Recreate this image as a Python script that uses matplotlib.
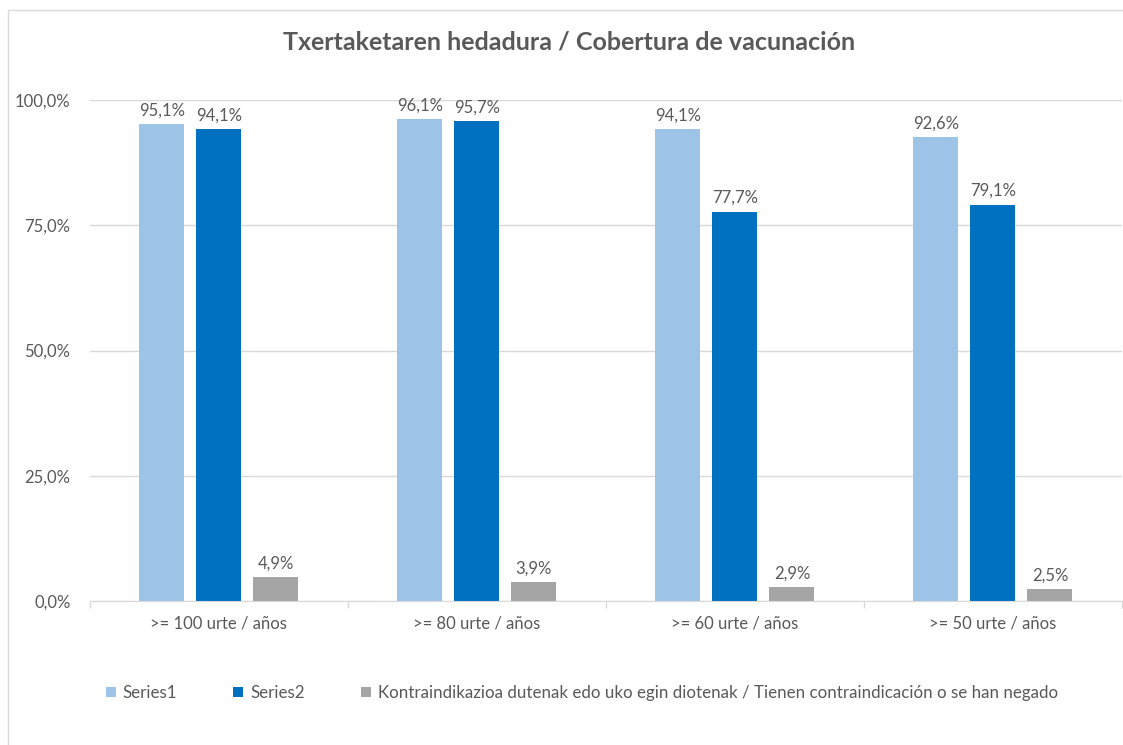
import numpy as np
import matplotlib.pyplot as plt
from matplotlib.patches import Rectangle

# datos
categorias = [">= 100 urte / años", ">= 80 urte / años", ">= 60 urte / años", ">= 50 urte / años"]
series1 = [95.1, 96.1, 94.1, 92.6]
series2 = [94.1, 95.7, 77.7, 79.1]
contra = [4.9, 3.9, 2.9, 2.5]
nombres = ["Series1", "Series2",
           "Kontraindikazioa dutenak edo uko egin diotenak / Tienen contraindicación o se han negado"]
colores = ["#9dc3e6", "#0070c0", "#a5a5a5"]

gris = "#595959"
plt.rcParams["font.family"] = ["Lato", "DejaVu Sans"]

fig = plt.figure(figsize=(11.23, 7.45), dpi=100)
ax = fig.add_axes([0.080, 0.193, 0.919, 0.673])

# marco del grafico
fig.patches.append(Rectangle((8 / 1123, -0.01), 1.2, 1 - 10 / 745 + 0.01, transform=fig.transFigure,
                             fill=False, edgecolor="#d9d9d9", linewidth=1))

x = np.arange(len(categorias))
ancho = 0.175
paso = 0.221
for i, (vals, col, nom) in enumerate(zip([series1, series2, contra], colores, nombres)):
    barras = ax.bar(x + (i - 1) * paso, vals, ancho, color=col, label=nom, zorder=3)
    for b, v in zip(barras, vals):
        ax.text(b.get_x() + b.get_width() / 2, v + 1.1, f"{v:.1f}%".replace(".", ","),
                ha="center", va="bottom", fontsize=12, color=gris)

ax.set_xlim(-0.5, len(categorias) - 0.5)
ax.set_ylim(0, 100)
ax.set_yticks([0, 25, 50, 75, 100])
ax.set_yticklabels([f"{v:.1f}%".replace(".", ",") for v in [0, 25, 50, 75, 100]])
ax.yaxis.grid(True, color="#d9d9d9", linewidth=1, zorder=0)
ax.tick_params(axis="y", length=0, labelsize=12, labelcolor=gris, pad=14)

ax.set_xticks(x)
ax.set_xticklabels(categorias)
ax.tick_params(axis="x", length=0, labelsize=12, labelcolor=gris, pad=10)
ax.set_xticks(np.arange(len(categorias) + 1) - 0.5, minor=True)
ax.tick_params(axis="x", which="minor", length=5, color="#d9d9d9", width=1)

for s in ["top", "right", "left"]:
    ax.spines[s].set_visible(False)
ax.spines["bottom"].set_color("#d9d9d9")
ax.spines["bottom"].set_zorder(4)

fig.text(0.507, 1 - 42 / 745, "Txertaketaren hedadura / Cobertura de vacunación",
         ha="center", va="center", fontsize=18, fontweight="bold", color=gris)

fig.legend(loc="center", bbox_to_anchor=(0.518, 1 - 693 / 745), ncol=3, frameon=False,
           fontsize=12.2, labelcolor=gris, handlelength=0.6, handleheight=0.6,
           handletextpad=0.4, columnspacing=3.3)

fig.savefig("out.png", dpi=100)
